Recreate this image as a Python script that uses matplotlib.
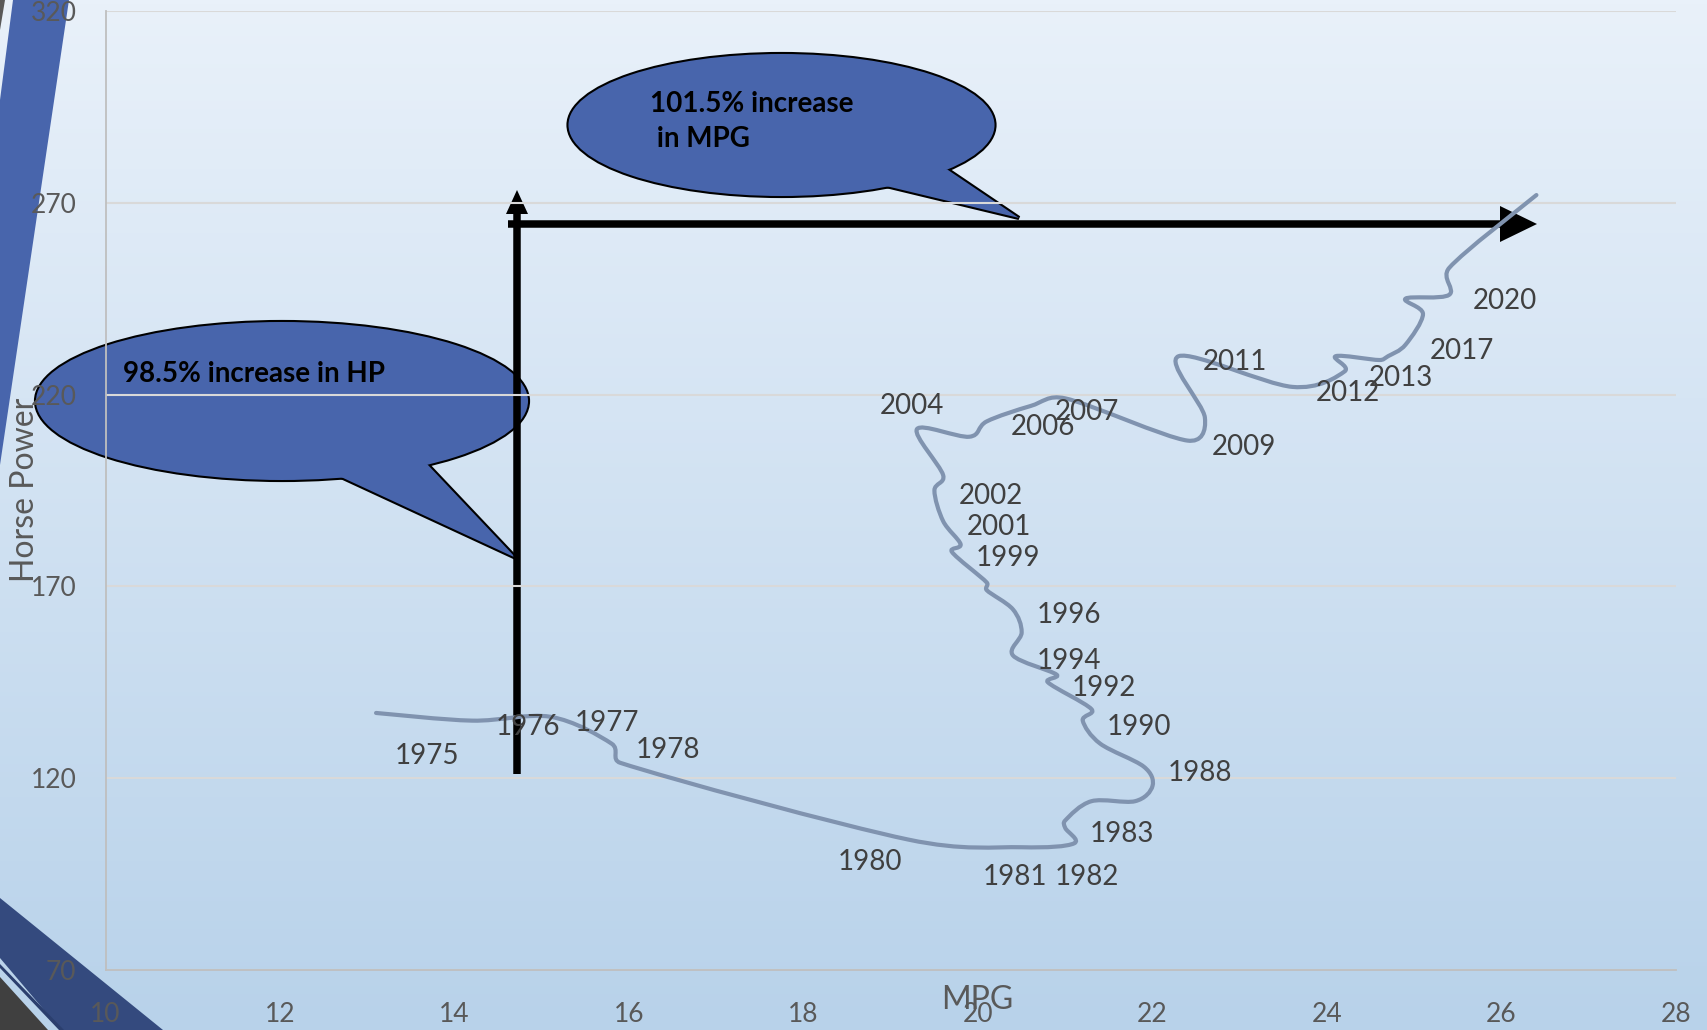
import numpy as np
import matplotlib
matplotlib.use("Agg")
import matplotlib.pyplot as plt
from matplotlib.path import Path
from matplotlib.patches import PathPatch, Ellipse, Polygon
from matplotlib.colors import LinearSegmentedColormap

plt.rcParams['font.family'] = ['Lato', 'DejaVu Sans']

# ---------------------------------------------------------------
# Data: average new vehicle fuel economy vs. horsepower by model year
# ---------------------------------------------------------------
years = list(range(1975, 2023))
mpg = [13.1, 14.2, 15.1, 15.8, 15.9, 19.2, 20.5, 21.1, 21.0, 21.0,
       21.3, 21.8, 22.0, 21.9, 21.4, 21.2, 21.3, 20.8, 20.9, 20.4,
       20.5, 20.4, 20.1, 20.1, 19.7, 19.8, 19.6, 19.5, 19.6, 19.3,
       19.9, 20.1, 20.6, 21.0, 22.4, 22.6, 22.3, 23.6, 24.2, 24.1,
       24.6, 24.7, 24.9, 25.1, 24.9, 25.4, 25.4, 26.4]
hp = [137, 135, 136, 129, 124, 104, 102, 103, 107, 109,
      114, 114, 118, 123, 129, 135, 138, 145, 147, 152,
      158, 164, 169, 171, 179, 181, 187, 195, 199, 211,
      209, 213, 217, 219, 208, 214, 230, 222, 226, 230,
      229, 230, 233, 241, 245, 246, 253, 272]

labeled_years = [1975, 1976, 1977, 1978, 1980, 1981, 1982, 1983, 1988, 1990,
                 1992, 1994, 1996, 1999, 2001, 2002, 2004, 2006, 2007, 2009,
                 2011, 2012, 2013, 2017, 2020]

x_ticks = list(range(10, 29, 2))
y_ticks = list(range(70, 321, 50))

hp_note = "98.5% increase in HP"
mpg_note = ["101.5% increase", " in MPG"]

# label offsets in pixels (right, down); anything not listed sits to the right
label_shift = {1975: (19, 43), 1980: (-71, 22), 1981: (-39, 30), 1982: (-19, 34),
               2004: (-37, -23)}
default_shift = (24, 6)

W, H = 1707, 1030
fig = plt.figure(figsize=(W / 100, H / 100), dpi=100)

# ---------------- background layer (pixel coordinates) ----------------
bg = fig.add_axes([0, 0, 1, 1], zorder=0)
bg.set_xlim(0, W)
bg.set_ylim(H, 0)
bg.axis('off')
grad = np.linspace(0, 1, 256)[:, None]
cmap = LinearSegmentedColormap.from_list('slide', ['#E9F1FA', '#B8D2EA'])
bg.imshow(grad, cmap=cmap, extent=(0, W, H, 0), aspect='auto', zorder=0)

# slide decorations
bg.add_patch(Polygon([(13, 0), (69, 0), (0, 465), (0, 100)], closed=True,
                     facecolor='#4865AC', edgecolor='none', zorder=1))
bg.add_patch(Polygon([(0, 0), (5, 0), (0, 30)], closed=True,
                     facecolor='#595959', edgecolor='none', zorder=1))
bg.add_patch(Polygon([(0, 898), (163, 1030), (61, 1030), (0, 958)], closed=True,
                     facecolor='#344A7E', edgecolor='none', zorder=1))
bg.add_patch(Polygon([(0, 964), (64, 1030), (59, 1030), (0, 968)], closed=True,
                     facecolor='#2B3F6E', edgecolor='none', zorder=1))
bg.add_patch(Polygon([(0, 977), (48, 1030), (0, 1030)], closed=True,
                     facecolor='#404040', edgecolor='none', zorder=1))


def callout(center, width, height, base1, base2, tip):
    fill = '#4865AC'
    ell = dict(xy=center, width=width, height=height)
    tail = [base1, tip, base2]
    # thick outline first, then plain fills on top merge the two outlines
    bg.add_patch(Ellipse(**ell, facecolor=fill, edgecolor='black', lw=3.0, zorder=2))
    bg.add_patch(Polygon(tail, closed=True, facecolor=fill, edgecolor='black',
                         lw=3.0, joinstyle='miter', zorder=2))
    bg.add_patch(Ellipse(**ell, facecolor=fill, edgecolor='none', zorder=3))
    bg.add_patch(Polygon(tail, closed=True, facecolor=fill, edgecolor='none', zorder=3))


callout((781.5, 125), 426, 142, (886, 186), (947, 169.3), (1019, 218))
callout((282, 401), 492, 158, (341, 477), (427, 464), (516, 558))

bg.text(650, 104, mpg_note[0], fontsize=20, fontweight='bold', color='black',
        ha='left', va='center', zorder=4)
bg.text(650, 139, mpg_note[1], fontsize=20, fontweight='bold', color='black',
        ha='left', va='center', zorder=4)
bg.text(123, 374, hp_note, fontsize=20, fontweight='bold', color='black',
        ha='left', va='center', zorder=4)

# growth arrows
bg.plot([517, 517], [774, 212], color='black', lw=5.4, solid_capstyle='butt', zorder=5)
bg.add_patch(Polygon([(506, 214), (528, 214), (517, 190)], closed=True,
                     facecolor='black', edgecolor='none', zorder=5))
bg.plot([508, 1502], [224, 224], color='black', lw=5.4, solid_capstyle='butt', zorder=5)
bg.add_patch(Polygon([(1500, 206), (1500, 242), (1537, 224)], closed=True,
                     facecolor='black', edgecolor='none', zorder=5))

# ---------------- chart ----------------
ax = fig.add_axes([105.6 / W, 60 / H, (1676 - 105.6) / W, (970 - 10.9) / H], zorder=1)
ax.set_facecolor('none')
ax.set_xlim(10, 28)
ax.set_ylim(70, 320)
ax.set_xticks(x_ticks)
ax.set_yticks(y_ticks)
ax.tick_params(axis='both', length=0, labelsize=19, labelcolor='#595959')
ax.tick_params(axis='y', pad=21)
ax.tick_params(axis='x', pad=23)
ax.grid(axis='y', color='#D9D9D9', lw=1.5)
ax.grid(axis='x', visible=False)
for side in ('top', 'right'):
    ax.spines[side].set_visible(False)
for side in ('left', 'bottom'):
    ax.spines[side].set_color('#BFBFBF')
    ax.spines[side].set_linewidth(1.3)


def smooth_path(xs, ys, trans):
    """Spreadsheet-style smoothed line: bezier segments with tangents from the
    neighbouring points, each control arm capped at half its segment length
    (worked out in screen space, then mapped back to data)."""
    pts = trans.transform(np.column_stack([xs, ys]).astype(float))
    n = len(pts)
    verts = [pts[0]]
    codes = [Path.MOVETO]
    for i in range(n - 1):
        p0 = pts[max(i - 1, 0)]
        p1 = pts[i]
        p2 = pts[i + 1]
        p3 = pts[min(i + 2, n - 1)]
        seg = np.hypot(*(p2 - p1))
        a1 = (p2 - p0) / 6
        a2 = (p3 - p1) / 6
        for a in (a1, a2):
            la = np.hypot(*a)
            if la > seg / 2 and la > 0:
                a *= (seg / 2) / la
        verts += [p1 + a1, p2 - a2, p2]
        codes += [Path.CURVE4] * 3
    return Path(trans.inverted().transform(np.array(verts)), codes)


ax.add_patch(PathPatch(smooth_path(mpg, hp, ax.transData), facecolor='none',
                       edgecolor='#8093AF', lw=3.0, capstyle='round',
                       joinstyle='round', zorder=3))

for yr in labeled_years:
    i = years.index(yr)
    dx, dy = label_shift.get(yr, default_shift)
    ax.annotate(str(yr), (mpg[i], hp[i]), xytext=(dx * 0.72, -dy * 0.72),
                textcoords='offset points', ha='left', va='center',
                fontsize=20, color='#404040', zorder=4)

fig.text(977 / W, 1 - 1000 / H, 'MPG', fontsize=23, color='#595959',
         ha='center', va='center', zorder=5)
fig.text(25 / W, 1 - 490 / H, 'Horse Power', fontsize=23, color='#595959',
         rotation=90, ha='center', va='center', zorder=5)

fig.savefig('out.png', dpi=100)
